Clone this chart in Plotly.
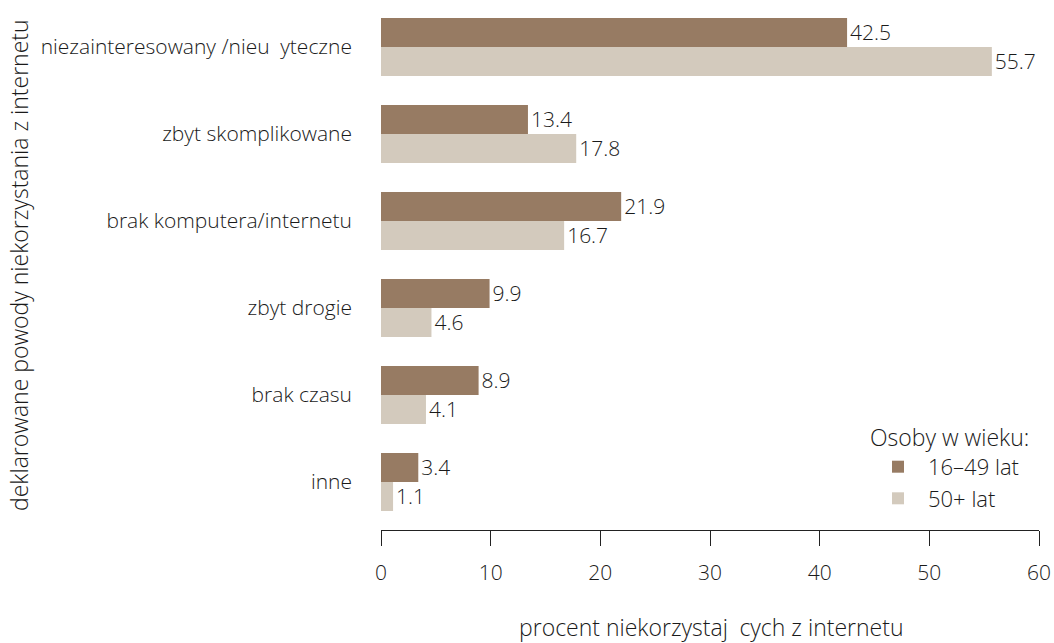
import plotly.graph_objects as go

categories = ["niezainteresowany /nieu\u2002yteczne", "zbyt skomplikowane", "brak komputera/internetu",
              "zbyt drogie", "brak czasu", "inne"]
young = [42.5, 13.4, 21.9, 9.9, 8.9, 3.4]
old = [55.7, 17.8, 16.7, 4.6, 4.1, 1.1]
series_names = ["16–49 lat", "50+ lat"]
x_ticks = [0, 10, 20, 30, 40, 50, 60]

FONT = "Open Sans"
TXT = "#1a1a1a"
WT = 300

fig = go.Figure()
for vals, name, col in [(young, series_names[0], "#977B63"), (old, series_names[1], "#D3CABD")]:
    fig.add_trace(go.Bar(
        y=categories, x=vals, name=name, orientation="h",
        marker=dict(color=col, line=dict(width=0)),
        text=[f"{v:.1f}" for v in vals], textposition="outside",
        textfont=dict(family=FONT, size=21, color=TXT, weight=WT),
        cliponaxis=False,
    ))

W, H = 1054, 643
L, R, T, B = 381, 1039, 10, 530
fig.update_layout(
    width=W, height=H,
    margin=dict(l=L, r=W - R, t=T, b=H - B, autoexpand=False),
    paper_bgcolor="white", plot_bgcolor="white",
    barmode="group", bargap=0.333, bargroupgap=0,
    font=dict(family=FONT, size=21, color=TXT, weight=WT),
    showlegend=True,
    legend=dict(
        title=dict(text="Osoby w wieku:", font=dict(family=FONT, size=23, color=TXT, weight=WT)),
        x=(868 - L) / (R - L), xanchor="left", y=(B - 416) / (B - T), yanchor="top",
        bgcolor="rgba(0,0,0,0)", font=dict(family=FONT, size=22, color=TXT, weight=WT),
        tracegroupgap=0, itemwidth=50,
    ),
    xaxis=dict(
        range=[0, 60], tickvals=x_ticks, showgrid=False, zeroline=False,
        showline=True, linecolor="#222", linewidth=1.3,
        ticks="outside", ticklen=15, tickwidth=1.3, tickcolor="#222",
        ticklabelstandoff=9,
        tickfont=dict(family=FONT, size=21, color=TXT, weight=WT),
    ),
    yaxis=dict(
        categoryorder="array", categoryarray=categories,
        range=[5.552, -0.425], showgrid=False, zeroline=False, showline=False,
        ticks="", ticklabelstandoff=28,
        tickfont=dict(family=FONT, size=21, color=TXT, weight=WT),
    ),
    annotations=[
        dict(text="procent niekorzystaj\u2002cych z internetu", xref="paper", yref="paper",
             x=(711 - L) / (R - L), y=(B - 627) / (B - T), xanchor="center", yanchor="middle",
             showarrow=False, font=dict(family=FONT, size=23, color=TXT, weight=WT)),
        dict(text="deklarowane powody niekorzystania z internetu", xref="paper", yref="paper",
             x=(19 - L) / (R - L), y=(B - 265) / (B - T), xanchor="center", yanchor="middle",
             textangle=-90, showarrow=False,
             font=dict(family=FONT, size=23, color=TXT, weight=WT)),
    ],
)

fig.write_html("out.html", config={"displayModeBar": False},
               post_script="document.body.style.margin='0';")
